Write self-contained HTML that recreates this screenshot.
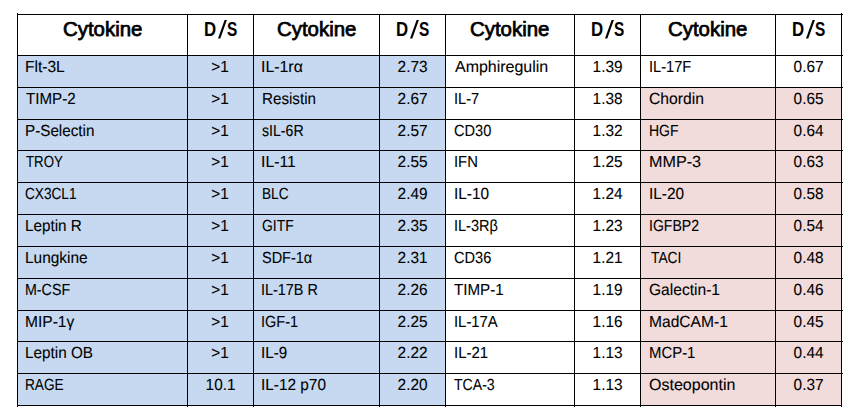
<!DOCTYPE html>
<html><head><meta charset="utf-8"><style>
html,body{margin:0;padding:0;background:#fff;width:853px;height:414px;overflow:hidden;position:relative}
div{position:absolute;box-sizing:border-box}
.l{background:#000}
.h{font:normal 20px "Liberation Sans",sans-serif;line-height:24px;color:#000;white-space:nowrap;transform-origin:0 0;-webkit-text-stroke:0.75px #000}
svg{position:absolute}
.b{font-weight:bold;-webkit-text-stroke:0}
.t{font:16px "Liberation Sans",sans-serif;line-height:20px;color:#000;white-space:nowrap;transform-origin:0 0;-webkit-text-stroke:0.1px #000;text-rendering:geometricPrecision}
.c{text-align:center}
.c span{transform-origin:50% 50%}
</style></head><body>
<div style="left:17px;top:55px;width:170px;height:32px;background:#c6d9f1"></div>
<div style="left:187px;top:55px;width:66px;height:32px;background:#c6d9f1"></div>
<div style="left:253px;top:55px;width:126px;height:32px;background:#c6d9f1"></div>
<div style="left:379px;top:55px;width:66px;height:32px;background:#c6d9f1"></div>
<div style="left:17px;top:87px;width:170px;height:32px;background:#c6d9f1"></div>
<div style="left:187px;top:87px;width:66px;height:32px;background:#c6d9f1"></div>
<div style="left:253px;top:87px;width:126px;height:32px;background:#c6d9f1"></div>
<div style="left:379px;top:87px;width:66px;height:32px;background:#c6d9f1"></div>
<div style="left:640px;top:87px;width:135px;height:32px;background:#f2dcdb"></div>
<div style="left:775px;top:87px;width:66px;height:32px;background:#f2dcdb"></div>
<div style="left:17px;top:119px;width:170px;height:31px;background:#c6d9f1"></div>
<div style="left:187px;top:119px;width:66px;height:31px;background:#c6d9f1"></div>
<div style="left:253px;top:119px;width:126px;height:31px;background:#c6d9f1"></div>
<div style="left:379px;top:119px;width:66px;height:31px;background:#c6d9f1"></div>
<div style="left:640px;top:119px;width:135px;height:31px;background:#f2dcdb"></div>
<div style="left:775px;top:119px;width:66px;height:31px;background:#f2dcdb"></div>
<div style="left:17px;top:150px;width:170px;height:32px;background:#c6d9f1"></div>
<div style="left:187px;top:150px;width:66px;height:32px;background:#c6d9f1"></div>
<div style="left:253px;top:150px;width:126px;height:32px;background:#c6d9f1"></div>
<div style="left:379px;top:150px;width:66px;height:32px;background:#c6d9f1"></div>
<div style="left:640px;top:150px;width:135px;height:32px;background:#f2dcdb"></div>
<div style="left:775px;top:150px;width:66px;height:32px;background:#f2dcdb"></div>
<div style="left:17px;top:182px;width:170px;height:32px;background:#c6d9f1"></div>
<div style="left:187px;top:182px;width:66px;height:32px;background:#c6d9f1"></div>
<div style="left:253px;top:182px;width:126px;height:32px;background:#c6d9f1"></div>
<div style="left:379px;top:182px;width:66px;height:32px;background:#c6d9f1"></div>
<div style="left:640px;top:182px;width:135px;height:32px;background:#f2dcdb"></div>
<div style="left:775px;top:182px;width:66px;height:32px;background:#f2dcdb"></div>
<div style="left:17px;top:214px;width:170px;height:32px;background:#c6d9f1"></div>
<div style="left:187px;top:214px;width:66px;height:32px;background:#c6d9f1"></div>
<div style="left:253px;top:214px;width:126px;height:32px;background:#c6d9f1"></div>
<div style="left:379px;top:214px;width:66px;height:32px;background:#c6d9f1"></div>
<div style="left:640px;top:214px;width:135px;height:32px;background:#f2dcdb"></div>
<div style="left:775px;top:214px;width:66px;height:32px;background:#f2dcdb"></div>
<div style="left:17px;top:246px;width:170px;height:32px;background:#c6d9f1"></div>
<div style="left:187px;top:246px;width:66px;height:32px;background:#c6d9f1"></div>
<div style="left:253px;top:246px;width:126px;height:32px;background:#c6d9f1"></div>
<div style="left:379px;top:246px;width:66px;height:32px;background:#c6d9f1"></div>
<div style="left:640px;top:246px;width:135px;height:32px;background:#f2dcdb"></div>
<div style="left:775px;top:246px;width:66px;height:32px;background:#f2dcdb"></div>
<div style="left:17px;top:278px;width:170px;height:32px;background:#c6d9f1"></div>
<div style="left:187px;top:278px;width:66px;height:32px;background:#c6d9f1"></div>
<div style="left:253px;top:278px;width:126px;height:32px;background:#c6d9f1"></div>
<div style="left:379px;top:278px;width:66px;height:32px;background:#c6d9f1"></div>
<div style="left:640px;top:278px;width:135px;height:32px;background:#f2dcdb"></div>
<div style="left:775px;top:278px;width:66px;height:32px;background:#f2dcdb"></div>
<div style="left:17px;top:310px;width:170px;height:31px;background:#c6d9f1"></div>
<div style="left:187px;top:310px;width:66px;height:31px;background:#c6d9f1"></div>
<div style="left:253px;top:310px;width:126px;height:31px;background:#c6d9f1"></div>
<div style="left:379px;top:310px;width:66px;height:31px;background:#c6d9f1"></div>
<div style="left:640px;top:310px;width:135px;height:31px;background:#f2dcdb"></div>
<div style="left:775px;top:310px;width:66px;height:31px;background:#f2dcdb"></div>
<div style="left:17px;top:341px;width:170px;height:32px;background:#c6d9f1"></div>
<div style="left:187px;top:341px;width:66px;height:32px;background:#c6d9f1"></div>
<div style="left:253px;top:341px;width:126px;height:32px;background:#c6d9f1"></div>
<div style="left:379px;top:341px;width:66px;height:32px;background:#c6d9f1"></div>
<div style="left:640px;top:341px;width:135px;height:32px;background:#f2dcdb"></div>
<div style="left:775px;top:341px;width:66px;height:32px;background:#f2dcdb"></div>
<div style="left:17px;top:373px;width:170px;height:32px;background:#c6d9f1"></div>
<div style="left:187px;top:373px;width:66px;height:32px;background:#c6d9f1"></div>
<div style="left:253px;top:373px;width:126px;height:32px;background:#c6d9f1"></div>
<div style="left:379px;top:373px;width:66px;height:32px;background:#c6d9f1"></div>
<div style="left:640px;top:373px;width:135px;height:32px;background:#f2dcdb"></div>
<div style="left:775px;top:373px;width:66px;height:32px;background:#f2dcdb"></div>
<div class="l" style="left:17px;top:13px;width:1px;height:394px"></div>
<div class="l" style="left:187px;top:14px;width:1px;height:393px"></div>
<div class="l" style="left:253px;top:14px;width:1px;height:393px"></div>
<div class="l" style="left:379px;top:14px;width:1px;height:393px"></div>
<div class="l" style="left:445px;top:14px;width:1px;height:393px"></div>
<div class="l" style="left:574px;top:14px;width:1px;height:393px"></div>
<div class="l" style="left:640px;top:14px;width:1px;height:393px"></div>
<div class="l" style="left:775px;top:14px;width:1px;height:393px"></div>
<div class="l" style="left:841px;top:13px;width:1px;height:394px"></div>
<div class="l" style="left:17px;top:14px;width:826px;height:1px"></div>
<div class="l" style="left:17px;top:55px;width:826px;height:1px"></div>
<div class="l" style="left:17px;top:87px;width:826px;height:1px"></div>
<div class="l" style="left:17px;top:119px;width:826px;height:1px"></div>
<div class="l" style="left:17px;top:150px;width:826px;height:1px"></div>
<div class="l" style="left:17px;top:182px;width:826px;height:1px"></div>
<div class="l" style="left:17px;top:214px;width:826px;height:1px"></div>
<div class="l" style="left:17px;top:246px;width:826px;height:1px"></div>
<div class="l" style="left:17px;top:278px;width:826px;height:1px"></div>
<div class="l" style="left:17px;top:310px;width:826px;height:1px"></div>
<div class="l" style="left:17px;top:341px;width:826px;height:1px"></div>
<div class="l" style="left:17px;top:373px;width:826px;height:1px"></div>
<div class="l" style="left:17px;top:405px;width:825px;height:1px"></div>
<div class="h" style="left:62.82px;top:17px;transform:scaleX(1.02)">Cytokine</div>
<div class="h b" style="left:204.05px;top:17px;transform:scaleX(0.84)">D</div>
<div class="h b" style="left:227.22px;top:17px;transform:scaleX(0.77)">S</div>
<svg style="position:absolute;left:0;top:0" width="853" height="60"><polygon points="218.00,38.6 220.30,38.6 226.90,20.1 224.60,20.1" fill="#000"/></svg>
<div class="h" style="left:276.82px;top:17px;transform:scaleX(1.02)">Cytokine</div>
<div class="h b" style="left:396.05px;top:17px;transform:scaleX(0.84)">D</div>
<div class="h b" style="left:419.22px;top:17px;transform:scaleX(0.77)">S</div>
<svg style="position:absolute;left:0;top:0" width="853" height="60"><polygon points="410.00,38.6 412.30,38.6 418.90,20.1 416.60,20.1" fill="#000"/></svg>
<div class="h" style="left:470.32px;top:17px;transform:scaleX(1.02)">Cytokine</div>
<div class="h b" style="left:591.05px;top:17px;transform:scaleX(0.84)">D</div>
<div class="h b" style="left:614.22px;top:17px;transform:scaleX(0.77)">S</div>
<svg style="position:absolute;left:0;top:0" width="853" height="60"><polygon points="605.00,38.6 607.30,38.6 613.90,20.1 611.60,20.1" fill="#000"/></svg>
<div class="h" style="left:668.32px;top:17px;transform:scaleX(1.02)">Cytokine</div>
<div class="h b" style="left:792.05px;top:17px;transform:scaleX(0.84)">D</div>
<div class="h b" style="left:815.22px;top:17px;transform:scaleX(0.77)">S</div>
<svg style="position:absolute;left:0;top:0" width="853" height="60"><polygon points="806.00,38.6 808.30,38.6 814.90,20.1 812.60,20.1" fill="#000"/></svg>
<div class="t" style="left:25.09px;top:58.0px;transform:scale(0.9718,1.0)">Flt-3L</div>
<div class="t c" style="left:188px;top:58.0px;width:65px"><span style="display:inline-block;transform:scaleX(0.96)">>1</span></div>
<div class="t" style="left:261.21px;top:58.0px;transform:scale(0.9925,1.0)">IL-1rα</div>
<div class="t c" style="left:380px;top:58.0px;width:65px"><span style="display:inline-block;transform:scaleX(0.96)">2.73</span></div>
<div class="t" style="left:454.70px;top:58.0px;transform:scale(0.9984,1.0)">Amphiregulin</div>
<div class="t c" style="left:575px;top:58.0px;width:65px"><span style="display:inline-block;transform:scaleX(0.96)">1.39</span></div>
<div class="t" style="left:648.83px;top:58.0px;transform:scale(0.9130,1.0)">IL-17F</div>
<div class="t c" style="left:776px;top:58.0px;width:65px"><span style="display:inline-block;transform:scaleX(0.96)">0.67</span></div>
<div class="t" style="left:25.76px;top:90.0px;transform:scale(0.9456,1.0)">TIMP-2</div>
<div class="t c" style="left:188px;top:90.0px;width:65px"><span style="display:inline-block;transform:scaleX(0.96)">>1</span></div>
<div class="t" style="left:261.51px;top:90.0px;transform:scale(0.9486,1.0)">Resistin</div>
<div class="t c" style="left:380px;top:90.0px;width:65px"><span style="display:inline-block;transform:scaleX(0.96)">2.67</span></div>
<div class="t" style="left:453.83px;top:90.0px;transform:scale(0.9109,1.0)">IL-7</div>
<div class="t c" style="left:575px;top:90.0px;width:65px"><span style="display:inline-block;transform:scaleX(0.96)">1.38</span></div>
<div class="t" style="left:648.96px;top:90.0px;transform:scale(0.9806,1.0)">Chordin</div>
<div class="t c" style="left:776px;top:90.0px;width:65px"><span style="display:inline-block;transform:scaleX(0.96)">0.65</span></div>
<div class="t" style="left:25.11px;top:122.0px;transform:scale(0.9518,1.0)">P-Selectin</div>
<div class="t c" style="left:188px;top:122.0px;width:65px"><span style="display:inline-block;transform:scaleX(0.96)">>1</span></div>
<div class="t" style="left:261.86px;top:122.0px;transform:scale(0.8831,1.0)">sIL-6R</div>
<div class="t c" style="left:380px;top:122.0px;width:65px"><span style="display:inline-block;transform:scaleX(0.96)">2.57</span></div>
<div class="t" style="left:454.02px;top:122.0px;transform:scale(0.9114,1.0)">CD30</div>
<div class="t c" style="left:575px;top:122.0px;width:65px"><span style="display:inline-block;transform:scaleX(0.96)">1.32</span></div>
<div class="t" style="left:649.11px;top:122.0px;transform:scale(0.8750,1.0)">HGF</div>
<div class="t c" style="left:776px;top:122.0px;width:65px"><span style="display:inline-block;transform:scaleX(0.96)">0.64</span></div>
<div class="t" style="left:25.79px;top:153.0px;transform:scale(0.8274,1.0)">TROY</div>
<div class="t c" style="left:188px;top:153.0px;width:65px"><span style="display:inline-block;transform:scaleX(0.96)">>1</span></div>
<div class="t" style="left:261.22px;top:153.0px;transform:scale(0.9848,1.0)">IL-11</div>
<div class="t c" style="left:380px;top:153.0px;width:65px"><span style="display:inline-block;transform:scaleX(0.96)">2.55</span></div>
<div class="t" style="left:453.81px;top:153.0px;transform:scale(0.9261,1.0)">IFN</div>
<div class="t c" style="left:575px;top:153.0px;width:65px"><span style="display:inline-block;transform:scaleX(0.96)">1.25</span></div>
<div class="t" style="left:648.94px;top:153.0px;transform:scale(1.0101,1.0)">MMP-3</div>
<div class="t c" style="left:776px;top:153.0px;width:65px"><span style="display:inline-block;transform:scaleX(0.96)">0.63</span></div>
<div class="t" style="left:25.36px;top:185.0px;transform:scale(0.8508,1.0)">CX3CL1</div>
<div class="t c" style="left:188px;top:185.0px;width:65px"><span style="display:inline-block;transform:scaleX(0.96)">>1</span></div>
<div class="t" style="left:261.63px;top:185.0px;transform:scale(0.8547,1.0)">BLC</div>
<div class="t c" style="left:380px;top:185.0px;width:65px"><span style="display:inline-block;transform:scaleX(0.96)">2.49</span></div>
<div class="t" style="left:453.76px;top:185.0px;transform:scale(0.9606,1.0)">IL-10</div>
<div class="t c" style="left:575px;top:185.0px;width:65px"><span style="display:inline-block;transform:scaleX(0.96)">1.24</span></div>
<div class="t" style="left:648.76px;top:185.0px;transform:scale(0.9606,1.0)">IL-20</div>
<div class="t c" style="left:776px;top:185.0px;width:65px"><span style="display:inline-block;transform:scaleX(0.96)">0.58</span></div>
<div class="t" style="left:25.11px;top:217.0px;transform:scale(0.9530,1.0)">Leptin R</div>
<div class="t c" style="left:188px;top:217.0px;width:65px"><span style="display:inline-block;transform:scaleX(0.96)">>1</span></div>
<div class="t" style="left:261.65px;top:217.0px;transform:scale(0.8686,1.0)">GITF</div>
<div class="t c" style="left:380px;top:217.0px;width:65px"><span style="display:inline-block;transform:scaleX(0.96)">2.35</span></div>
<div class="t" style="left:453.84px;top:217.0px;transform:scale(0.9059,1.0)">IL-3Rβ</div>
<div class="t c" style="left:575px;top:217.0px;width:65px"><span style="display:inline-block;transform:scaleX(0.96)">1.23</span></div>
<div class="t" style="left:648.88px;top:217.0px;transform:scale(0.8789,1.0)">IGFBP2</div>
<div class="t c" style="left:776px;top:217.0px;width:65px"><span style="display:inline-block;transform:scaleX(0.96)">0.54</span></div>
<div class="t" style="left:25.09px;top:249.0px;transform:scale(0.9651,1.0)">Lungkine</div>
<div class="t c" style="left:188px;top:249.0px;width:65px"><span style="display:inline-block;transform:scaleX(0.96)">>1</span></div>
<div class="t" style="left:261.62px;top:249.0px;transform:scale(0.9051,1.0)">SDF-1α</div>
<div class="t c" style="left:380px;top:249.0px;width:65px"><span style="display:inline-block;transform:scaleX(0.96)">2.31</span></div>
<div class="t" style="left:454.02px;top:249.0px;transform:scale(0.9114,1.0)">CD36</div>
<div class="t c" style="left:575px;top:249.0px;width:65px"><span style="display:inline-block;transform:scaleX(0.96)">1.21</span></div>
<div class="t" style="left:650.58px;top:249.0px;transform:scale(0.8627,1.0)">TACI</div>
<div class="t c" style="left:776px;top:249.0px;width:65px"><span style="display:inline-block;transform:scaleX(0.96)">0.48</span></div>
<div class="t" style="left:25.19px;top:281.0px;transform:scale(0.8903,1.0)">M-CSF</div>
<div class="t c" style="left:188px;top:281.0px;width:65px"><span style="display:inline-block;transform:scaleX(0.96)">>1</span></div>
<div class="t" style="left:261.35px;top:281.0px;transform:scale(0.9004,1.0)">IL-17B R</div>
<div class="t c" style="left:380px;top:281.0px;width:65px"><span style="display:inline-block;transform:scaleX(0.96)">2.26</span></div>
<div class="t" style="left:454.06px;top:281.0px;transform:scale(0.9476,1.0)">TIMP-1</div>
<div class="t c" style="left:575px;top:281.0px;width:65px"><span style="display:inline-block;transform:scaleX(0.96)">1.19</span></div>
<div class="t" style="left:648.97px;top:281.0px;transform:scale(0.9740,1.0)">Galectin-1</div>
<div class="t c" style="left:776px;top:281.0px;width:65px"><span style="display:inline-block;transform:scaleX(0.96)">0.46</span></div>
<div class="t" style="left:25.08px;top:313.0px;transform:scale(0.9726,1.0)">MIP-1γ</div>
<div class="t c" style="left:188px;top:313.0px;width:65px"><span style="display:inline-block;transform:scaleX(0.96)">>1</span></div>
<div class="t" style="left:261.34px;top:313.0px;transform:scale(0.9065,1.0)">IGF-1</div>
<div class="t c" style="left:380px;top:313.0px;width:65px"><span style="display:inline-block;transform:scaleX(0.96)">2.25</span></div>
<div class="t" style="left:453.81px;top:313.0px;transform:scale(0.9275,1.0)">IL-17A</div>
<div class="t c" style="left:575px;top:313.0px;width:65px"><span style="display:inline-block;transform:scaleX(0.96)">1.16</span></div>
<div class="t" style="left:648.98px;top:313.0px;transform:scale(0.9740,1.0)">MadCAM-1</div>
<div class="t c" style="left:776px;top:313.0px;width:65px"><span style="display:inline-block;transform:scaleX(0.96)">0.45</span></div>
<div class="t" style="left:25.11px;top:344.0px;transform:scale(0.9551,1.0)">Leptin OB</div>
<div class="t c" style="left:188px;top:344.0px;width:65px"><span style="display:inline-block;transform:scaleX(0.96)">>1</span></div>
<div class="t" style="left:261.27px;top:344.0px;transform:scale(0.9505,1.0)">IL-9</div>
<div class="t c" style="left:380px;top:344.0px;width:65px"><span style="display:inline-block;transform:scaleX(0.96)">2.22</span></div>
<div class="t" style="left:453.80px;top:344.0px;transform:scale(0.9343,1.0)">IL-21</div>
<div class="t c" style="left:575px;top:344.0px;width:65px"><span style="display:inline-block;transform:scaleX(0.96)">1.13</span></div>
<div class="t" style="left:649.04px;top:344.0px;transform:scale(0.9319,1.0)">MCP-1</div>
<div class="t c" style="left:776px;top:344.0px;width:65px"><span style="display:inline-block;transform:scaleX(0.96)">0.44</span></div>
<div class="t" style="left:25.23px;top:376.0px;transform:scale(0.8529,1.0)">RAGE</div>
<div class="t c" style="left:188px;top:376.0px;width:65px"><span style="display:inline-block;transform:scaleX(0.96)">10.1</span></div>
<div class="t" style="left:261.26px;top:376.0px;transform:scale(0.9603,1.0)">IL-12 p70</div>
<div class="t c" style="left:380px;top:376.0px;width:65px"><span style="display:inline-block;transform:scaleX(0.96)">2.20</span></div>
<div class="t" style="left:454.08px;top:376.0px;transform:scale(0.8796,1.0)">TCA-3</div>
<div class="t c" style="left:575px;top:376.0px;width:65px"><span style="display:inline-block;transform:scaleX(0.96)">1.13</span></div>
<div class="t" style="left:649.05px;top:376.0px;transform:scale(1.0012,1.0)">Osteopontin</div>
<div class="t c" style="left:776px;top:376.0px;width:65px"><span style="display:inline-block;transform:scaleX(0.96)">0.37</span></div>
</body></html>
